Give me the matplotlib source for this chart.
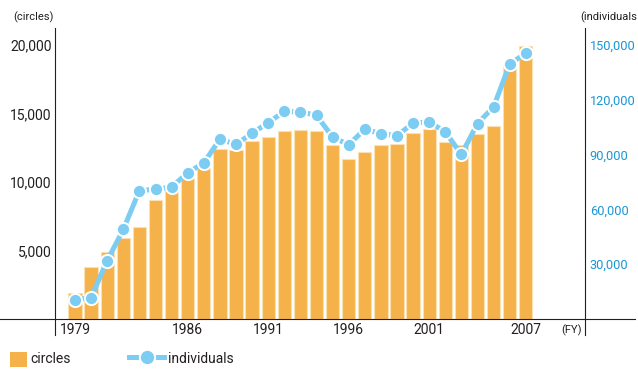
import matplotlib
matplotlib.use("Agg")
import matplotlib.pyplot as plt
from matplotlib.lines import Line2D
from matplotlib.patches import Rectangle

plt.rcParams['font.family'] = ['Roboto', 'DejaVu Sans']

# Fiscal years and series
years = list(range(1979, 2008))
circles = [1900, 3800, 4900, 5900, 6700, 8700, 9500, 10300, 11100, 12400,
           12300, 13000, 13300, 13700, 13800, 13700, 12700, 11700, 12200, 12700,
           12800, 13600, 13900, 12900, 12700, 13500, 14100, 18500, 19900]
individuals = [10500, 11700, 32000, 49000, 70300, 71000, 72300, 80000, 85500, 98400,
               95600, 101700, 107500, 113600, 113400, 111500, 99600, 95400, 103900, 101500,
               100400, 107200, 107900, 102400, 90100, 107000, 116100, 139600, 145500]

year_ticks = [1979, 1986, 1991, 1996, 2001, 2007]
left_ticks = [5000, 10000, 15000, 20000]
right_ticks = [30000, 60000, 90000, 120000, 150000]

BAR = '#F6B24A'
BAR_EDGE = '#FBE0B4'
LINE = '#7DCDF3'
DARK = '#231F20'
BLUE = '#1A96D4'

W, H = 638, 369
fig = plt.figure(figsize=(W / 100, H / 100), dpi=100)


def fx(px):
    return px / W


def fy(py):
    return 1 - py / H


# axes box in pixels: x 55..585, y 28..335
ax = fig.add_axes([fx(55), fy(335), fx(585) - fx(55), fy(28) - fy(335)])
px_per_unit = 274 / 20000.0
ymin = -16 / px_per_unit
ymax = (319 - 28) / px_per_unit
ax.set_ylim(ymin, ymax)
ax.set_xlim(1979 - 20 / 16.1, 1979 + 510 / 16.1)

ax.bar(years, circles, width=0.82, color=BAR, edgecolor=BAR_EDGE, linewidth=0.8, zorder=2)

for s in ['top', 'bottom', 'right']:
    ax.spines[s].set_visible(False)
ax.spines['left'].set_color(DARK)
ax.spines['left'].set_linewidth(0.8)

ax.set_xticks([])
ax.set_yticks(left_ticks)
ax.set_yticklabels([f"{v:,}" for v in left_ticks], fontsize=10, color=DARK)
ax.tick_params(axis='y', length=0, pad=2.5)

# baseline across the whole width
ax.axhline(0, xmin=(0 - 55) / 530, xmax=(635 - 55) / 530, color=DARK, lw=0.8,
           clip_on=False, zorder=3)

for y in year_ticks:
    ax.annotate(str(y), xy=(y, 0), xytext=(0, -8), textcoords='offset points',
                ha='center', va='center', fontsize=10, color=DARK)

ax2 = ax.twinx()
ax2.set_ylim(ymin * 7.5, ymax * 7.5)
for s in ['top', 'bottom', 'left']:
    ax2.spines[s].set_visible(False)
ax2.spines['right'].set_color(DARK)
ax2.spines['right'].set_linewidth(0.8)
ax2.set_yticks(right_ticks)
ax2.set_yticklabels([f"{v:,}" for v in right_ticks], fontsize=9.2, color=BLUE)
ax2.tick_params(axis='y', length=0, pad=3.5)

ax2.plot(years, individuals, color=LINE, lw=3.6, marker='o', markersize=9.5,
         markerfacecolor=LINE, markeredgecolor='white', markeredgewidth=1.4, zorder=4)

# axis captions
fig.text(fx(13), fy(17), '(circles)', fontsize=8, color=DARK, ha='left', va='center')
fig.text(fx(637), fy(17), '(individuals', fontsize=8, color=DARK, ha='right', va='center')
fig.text(fx(571), fy(330), '(FY)', fontsize=8, color=DARK, ha='center', va='center')

# legend
fig.patches.append(Rectangle((fx(10), fy(367)), fx(17), 15 / H, transform=fig.transFigure,
                             facecolor=BAR, edgecolor='none'))
fig.text(fx(30), fy(359), 'circles', fontsize=10, color=DARK, ha='left', va='center')
fig.add_artist(Line2D([fx(129), fx(164)], [fy(357), fy(357)], transform=fig.transFigure,
                      color=LINE, lw=3.6))
fig.add_artist(Line2D([fx(146.5)], [fy(357)], transform=fig.transFigure, marker='o',
                      markersize=11, markerfacecolor=LINE, markeredgecolor='white',
                      markeredgewidth=1.4, linestyle='none'))
fig.text(fx(168), fy(359), 'individuals', fontsize=10, color=DARK, ha='left', va='center')

fig.savefig('out.png', dpi=100)
